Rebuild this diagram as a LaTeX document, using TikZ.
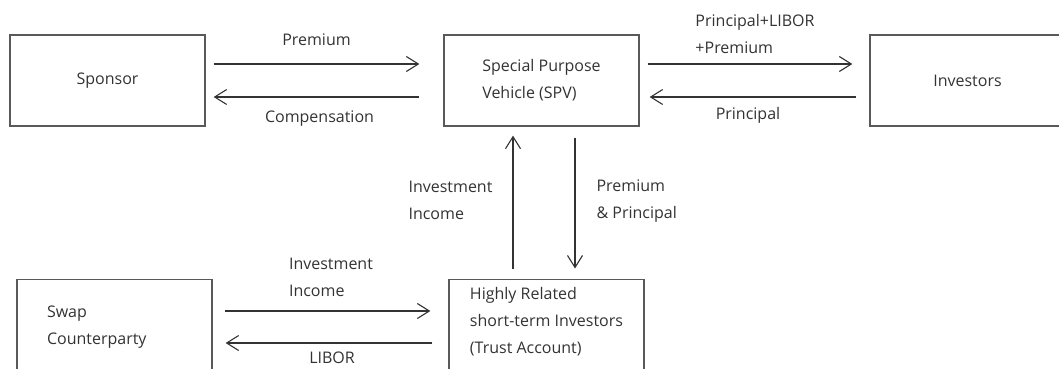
\documentclass[tikz,border=0pt]{standalone}
\usepackage{fontspec}
\setmainfont{Open Sans}
\usetikzlibrary{arrows.meta, calc, positioning}

\begin{document}
\begin{tikzpicture}[x=1pt, y=-1pt,
    font=\fontsize{16}{27}\selectfont,
    box/.style={draw=black!65, line width=1.3pt, minimum width=195pt, minimum height=91pt, text=black!80},
    lowbox/.style={box, anchor=north, minimum height=0pt, text depth=100pt},
    flow/.style={color=black!80, line width=1.1pt, -{Straight Barb[length=12pt, width=15pt]}},
    lbl/.style={text=black!80, inner sep=0pt, align=left}]
        \useasboundingbox (0,0) rectangle (1059,369);
        \clip (0,0) rectangle (1059,369);

        % top row
        \node[box]                 (spon)  at (107.5,80.5)             {Sponsor};
        \node[box, align=left]     (spv)   [on grid, right=434pt of spon] {Special Purpose\\Vehicle (SPV)};
        \node[box]                 (inv)   [on grid, right=426pt of spv]  {Investors};
        % bottom row, cut off at the lower edge
        \node[lowbox, text width=135pt, align=left, inner xsep=30pt, inner ysep=27pt]
                                   (swap)  at (114.5,278.5)            {Swap\\Counterparty};
        \node[lowbox, align=left, inner xsep=6pt, inner ysep=8.5pt]
                                   (trust) at (546.5,278.5)            {Highly Related\\short-term Investors\\(Trust Account)};

        \path[flow]
        ($(spon.east)+(8,-16.5)$) edge node[lbl, yshift=24pt] {Premium} ($(spv.west)+(-24,-16.5)$)
        ($(spv.west)+(-24,16.5)$) edge node[lbl, xshift=3pt, yshift=-22pt] {Compensation} ($(spon.east)+(8,16.5)$)
        ($(spv.east)+(8,-16.5)$) edge node[lbl, xshift=5pt, yshift=30.5pt] {Principal+LIBOR\\+Premium} ($(inv.west)+(-17,-16.5)$)
        ($(inv.west)+(-13,16.5)$) edge node[lbl, xshift=-5pt, yshift=-18pt] {Principal} ($(spv.east)+(10,16.5)$)
        ($(trust.north)+(-33.5,-10)$) edge node[lbl, left=20pt, yshift=2pt] {Investment\\Income} ($(spv.south)+(-28.5,9)$)
        ($(spv.south)+(33.5,11)$) edge node[lbl, right=21pt, yshift=2pt] {Premium\\\& Principal} ($(trust.north)+(28.5,-10)$)
        ($(swap.north east)+(12,32.5)$) edge node[lbl, xshift=3.5pt, yshift=33.5pt] {Investment\\Income} ($(trust.north west)+(-18,32.5)$)
        ($(trust.north west)+(-16,64.5)$) edge node[lbl, xshift=3pt, yshift=-15pt] {LIBOR} ($(swap.north east)+(13,64.5)$)
        ;
\end{tikzpicture}
\end{document}
